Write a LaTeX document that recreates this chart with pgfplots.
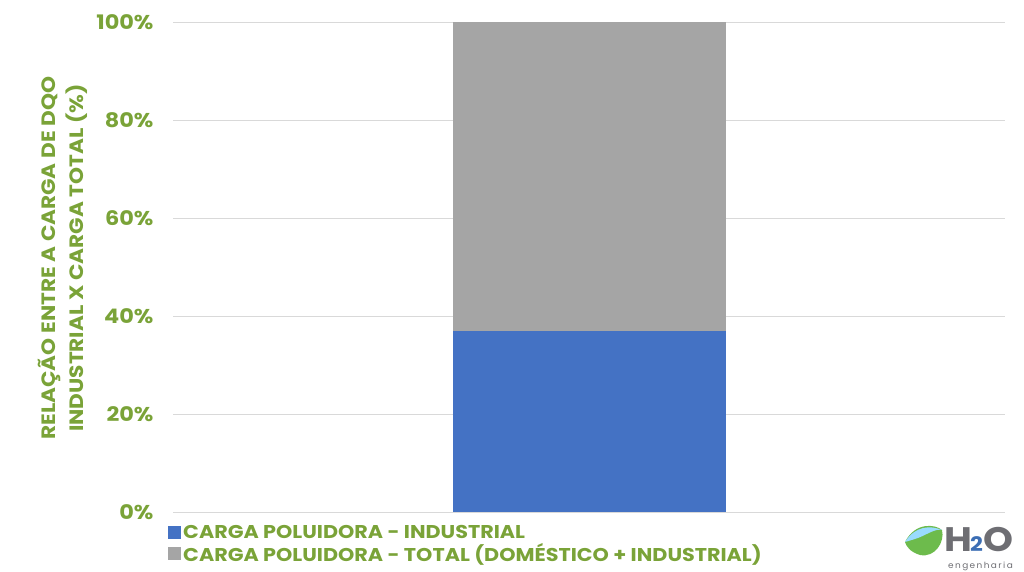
\documentclass[border=0pt]{standalone}
\usepackage{fontspec}
\setmainfont{Poppins}[BoldFont={Poppins Bold}, BoldFeatures={FakeStretch=1.12}, UprightFeatures={FakeStretch=1.05}]
\usepackage{pgfplots}
\pgfplotsset{compat=1.18}
\definecolor{grn}{RGB}{122,163,56}
\definecolor{barblue}{RGB}{68,114,196}
\definecolor{bargray}{RGB}{165,165,165}
\definecolor{gridc}{RGB}{217,217,217}
\definecolor{logogray}{RGB}{110,110,115}
\definecolor{logoblue}{RGB}{60,110,180}
\begin{document}
\begin{tikzpicture}
\path[use as bounding box] (0,0) rectangle (1024pt,572pt);
\begin{axis}[
  at={(173pt,60pt)}, anchor=south west,
  scale only axis, width=832pt, height=490pt,
  ybar stacked, bar width=273pt,
  xmin=-1, xmax=1, ymin=0, ymax=100,
  xtick=\empty,
  ytick={0,20,40,60,80,100},
  yticklabel={\pgfmathprintnumber{\tick}\%},
  /pgf/number format/assume math mode=true,
  yticklabel style={font=\fontsize{20}{24}\selectfont\bfseries, text=grn, xshift=-16pt},
  ymajorgrids, grid style={gridc, line width=0.8pt},
  major tick length=0pt,
  axis line style={draw=none},
  axis x line*=bottom,
  ylabel={RELAÇÃO ENTRE A CARGA DE DQO\\INDUSTRIAL X CARGA TOTAL (\%)},
  ylabel style={at={(rel axis cs:-0.132,0.518)}, anchor=center, rotate=0, align=center,
     font=\fontsize{19.3}{28}\selectfont\bfseries, text=grn},
  legend style={at={(rel axis cs:-0.0096,-0.018)}, anchor=north west, draw=none, fill=none,
     font=\fontsize{18.5}{22}\selectfont\bfseries, text=grn, row sep=0pt,
     /tikz/every even column/.append style={column sep=0pt}},
  legend cell align=left,
  legend image code/.code={\fill[#1,draw=none] (-1pt,-6.5pt) rectangle (12pt,6.5pt);},
]
\addplot[fill=barblue, draw=none] coordinates {(0,37)};
\addplot[fill=bargray, draw=none] coordinates {(0,63)};
\legend{CARGA POLUIDORA - INDUSTRIAL, CARGA POLUIDORA - TOTAL (DOMÉSTICO + INDUSTRIAL)}
\draw[gridc, line width=0.8pt] (rel axis cs:0,0) -- (rel axis cs:1,0);
\end{axis}
% logo
\fill[green!55!olive!80!black!70] (905pt,30pt) .. controls (915pt,50pt) and (935pt,48pt) .. (942pt,42pt) .. controls (945pt,30pt) and (935pt,14pt) .. (920pt,17pt) .. controls (910pt,20pt) and (906pt,26pt) .. cycle;
\fill[blue!35!cyan!40!white] (905pt,30pt) .. controls (915pt,46pt) and (930pt,47pt) .. (942pt,42pt) .. controls (935pt,44pt) and (925pt,36pt) .. (915pt,33pt) -- cycle;
\node[anchor=base west, inner sep=0pt, font=\fontsize{34}{34}\selectfont\bfseries, text=logogray] at (944pt,20pt) {H};
\node[anchor=base west, inner sep=0pt, font=\fontsize{20}{20}\selectfont\bfseries, text=logoblue] at (970pt,20pt) {2};
\node[anchor=base west, inner sep=0pt, font=\fontsize{34}{34}\selectfont\bfseries, text=logogray] at (983pt,20pt) {O};
\node[anchor=base west, inner sep=0pt, font=\fontsize{8.5}{8.5}\selectfont, text=logogray] at (948pt,3pt) {e\,n\,g\,e\,n\,h\,a\,r\,i\,a};
\end{tikzpicture}
\end{document}
